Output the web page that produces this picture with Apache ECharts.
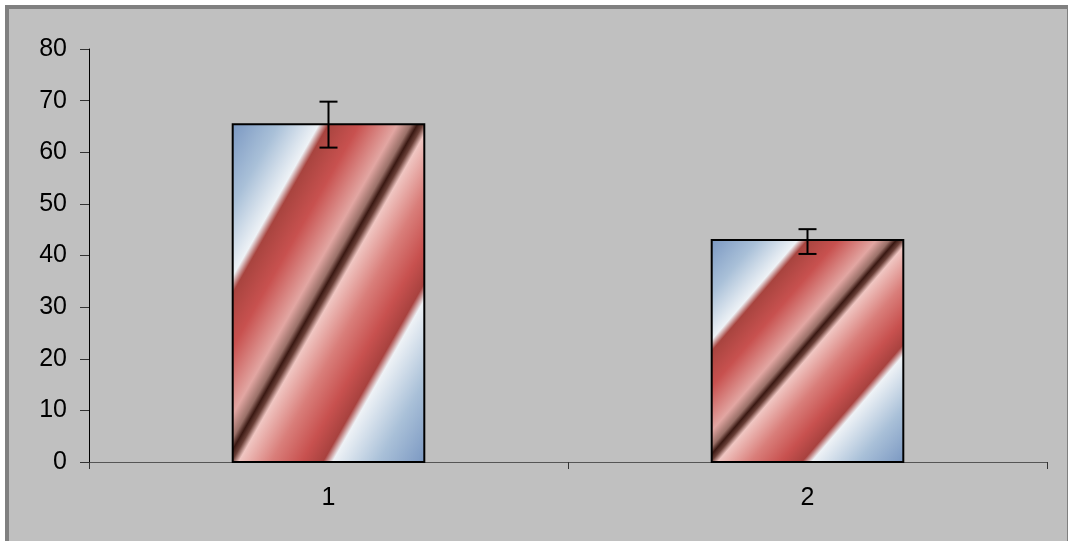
<!DOCTYPE html>
<html>
<head>
<meta charset="utf-8">
<script src="https://cdn.jsdelivr.net/npm/echarts@6/dist/echarts.min.js"></script>
<style>
  html, body { margin: 0; padding: 0; background: #fff; }
  #frame {
    position: absolute;
    left: 5px; top: 5px;
    width: 1058px; height: 536px;
    border-top: 4px solid #808080;
    border-left: 4px solid #808080;
    border-right: 1px solid #808080;
    background: #c0c0c0;
  }
  #chart { width: 1058px; height: 532px; }
</style>
</head>
<body>
<div id="frame"><div id="chart"></div></div>
<script>
const categories = ['1', '2']
const means = [65.4, 43.0]
const errLow = [60.9, 40.3]
const errHigh = [69.8, 45.1]
const yTicks = { min: 0, max: 80, interval: 10 }

const font = "'Liberation Sans', Arial, sans-serif"

// diagonal stripes: blue - white - red - dark line - pink - red - white - blue
const stripeStops = [
  { offset: 0.00, color: '#7b98c2' },
  { offset: 0.12, color: '#a9c0d8' },
  { offset: 0.225, color: '#eef2f6' },
  { offset: 0.25, color: '#a8443f' },
  { offset: 0.33, color: '#c8514f' },
  { offset: 0.43, color: '#e2a6a2' },
  { offset: 0.465, color: '#9a7068' },
  { offset: 0.482, color: '#3a1812' },
  { offset: 0.497, color: '#6a4038' },
  { offset: 0.515, color: '#f0c6c2' },
  { offset: 0.60, color: '#d97e7a' },
  { offset: 0.68, color: '#c8514f' },
  { offset: 0.735, color: '#a8423f' },
  { offset: 0.76, color: '#eef2f6' },
  { offset: 0.88, color: '#a9c0d8' },
  { offset: 1.00, color: '#7b98c2' }
]

const stripeFill = (x, y, w, h) => {
  // stripes run along the bar's rising diagonal
  const cx = x + w / 2
  const cy = y + h / 2
  const s = (w * h) / (w * w + h * h)
  return new echarts.graphic.LinearGradient(
    cx - s * h, cy - s * w, cx + s * h, cy + s * w, stripeStops, true
  )
}

const renderBar = (params, api) => {
  const idx = api.value(0)
  const top = api.coord([idx, api.value(1)])
  const base = api.coord([idx, 0])
  const bw = api.size([1, 0])[0] * 0.4
  const x = top[0] - bw / 2
  const y = top[1]
  const h = base[1] - top[1]
  return {
    type: 'rect',
    shape: { x: x, y: y, width: bw, height: h },
    style: { fill: stripeFill(x, y, bw, h), stroke: '#000', lineWidth: 2 }
  }
}

const renderErr = (params, api) => {
  const idx = api.value(0)
  const lo = api.coord([idx, api.value(1)])
  const hi = api.coord([idx, api.value(2)])
  const cap = 9
  const st = { stroke: '#000', lineWidth: 2 }
  return {
    type: 'group',
    children: [
      { type: 'line', shape: { x1: lo[0], y1: lo[1], x2: hi[0], y2: hi[1] }, style: st },
      { type: 'line', shape: { x1: hi[0] - cap, y1: hi[1], x2: hi[0] + cap, y2: hi[1] }, style: st },
      { type: 'line', shape: { x1: lo[0] - cap, y1: lo[1], x2: lo[0] + cap, y2: lo[1] }, style: st }
    ]
  }
}

const chart = echarts.init(document.getElementById('chart'))

chart.setOption({
  animation: false,
  backgroundColor: '#c0c0c0',
  grid: { left: 80, right: 20, top: 40, bottom: 79 },
  xAxis: {
    type: 'category',
    data: categories,
    axisLine: { lineStyle: { color: '#555', width: 1 } },
    axisTick: { show: true, length: 7, lineStyle: { color: '#333' } },
    axisLabel: { color: '#000', fontSize: 25, fontFamily: font, margin: 24 }
  },
  yAxis: {
    type: 'value',
    min: yTicks.min,
    max: yTicks.max,
    interval: yTicks.interval,
    splitLine: { show: false },
    axisLine: { show: true, lineStyle: { color: '#000', width: 1 } },
    axisTick: { show: true, length: 9, lineStyle: { color: '#333' } },
    axisLabel: { color: '#000', fontSize: 25, fontFamily: font, margin: 22 }
  },
  series: [
    {
      type: 'custom',
      renderItem: renderBar,
      encode: { x: 0, y: 1 },
      data: means.map((v, i) => [i, v]),
      z: 2
    },
    {
      type: 'custom',
      renderItem: renderErr,
      encode: { x: 0, y: [1, 2] },
      data: errLow.map((v, i) => [i, v, errHigh[i]]),
      z: 3
    }
  ]
})
</script>
</body>
</html>
